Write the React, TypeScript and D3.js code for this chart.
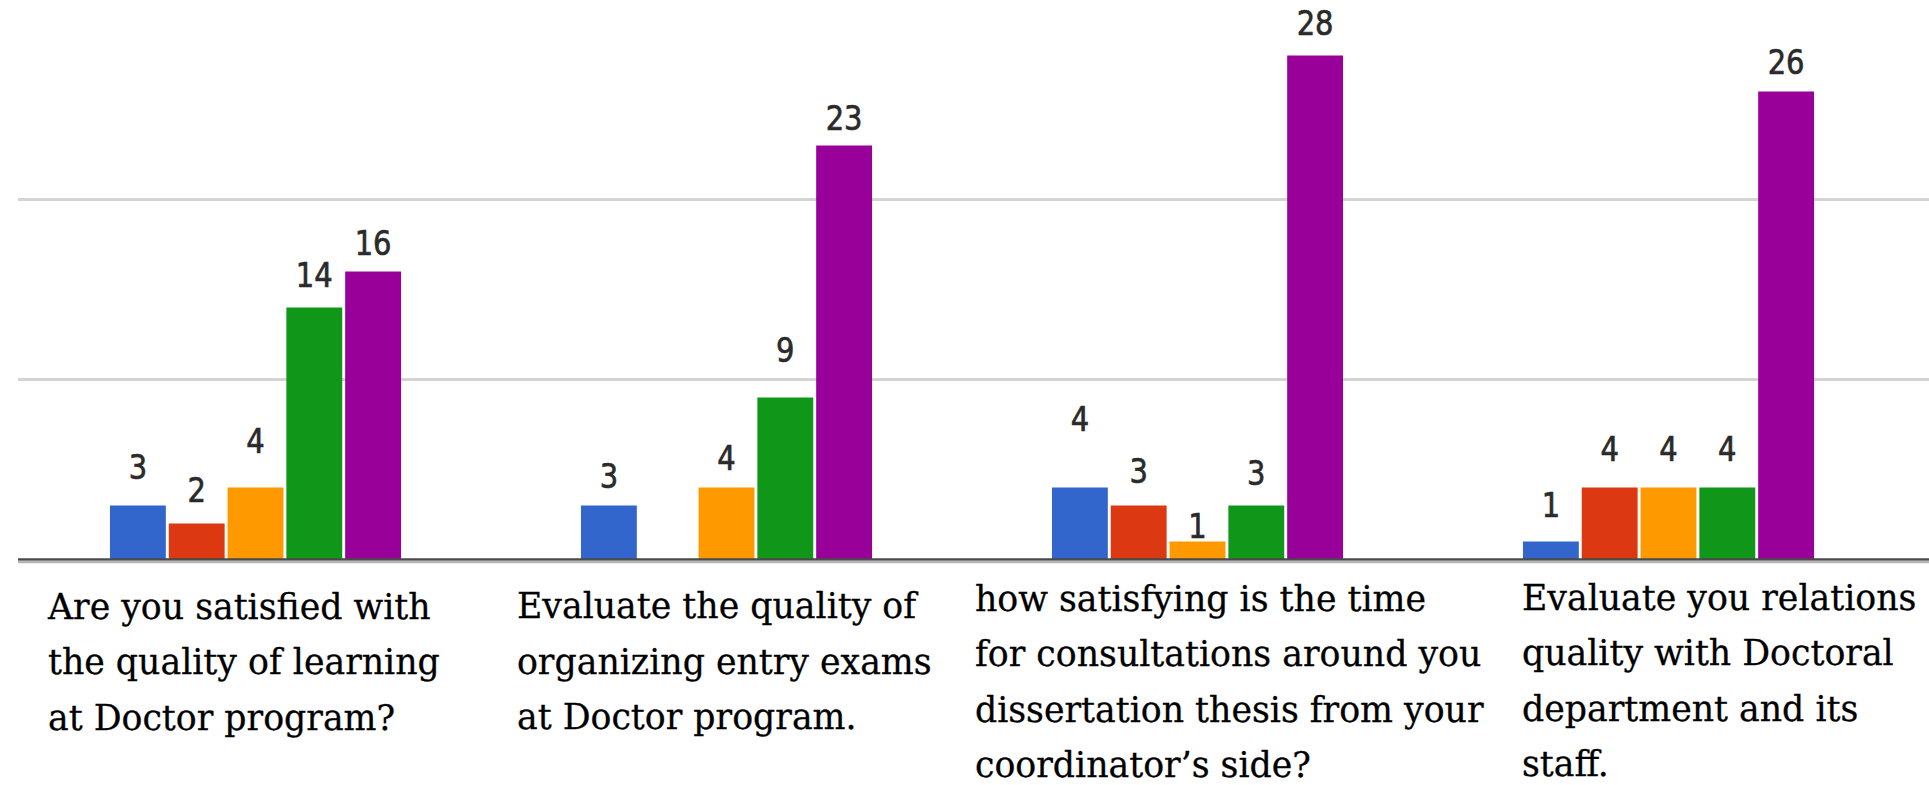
import React from "react";
import * as d3 from "d3";

// ---- data ----
const categories: string[][] = [
  ["Are you satisfied with", "the quality of learning", "at Doctor program?"],
  ["Evaluate the quality of", "organizing entry exams", "at Doctor program."],
  ["how satisfying is the time", "for consultations around you", "dissertation thesis from your", "coordinator\u2019s side?"],
  ["Evaluate you relations", "quality with Doctoral", "department and its", "staff."],
];
const seriesNames: string[] = ["1", "2", "3", "4", "5"];
const s1: (number | null)[] = [3, 3, 4, 1];
const s2: (number | null)[] = [2, null, 3, 4];
const s3: (number | null)[] = [4, 4, 1, 4];
const s4: (number | null)[] = [14, 9, 3, 4];
const s5: (number | null)[] = [16, 23, 28, 26];
const seriesValues = [s1, s2, s3, s4, s5];
const gridTicks: number[] = [10, 20];

// ---- style ----
const W = 1929;
const H = 785;
const colors = ["#3366cc", "#dc3912", "#ff9900", "#109618", "#990099"];
// extra lift of value labels above the default position (px), per category / series
const labelLift: number[][] = [
  [6, 1, 14, 0, -4],
  [-3, 0, -3, 15, -5],
  [36, 2, -17, 0, 0],
  [4, 6, 6, 6, -3],
];
const catLabelDx = [-62, -64, -77, -1];
const catLabelFirstBaseline = [619, 618.5, 611, 610];

export default function App() {
  const baseY = 559.5;
  const y = d3.scaleLinear().domain([0, 30]).range([baseY, baseY - 30 * 18]);
  const catIdx = categories.map((_, i) => String(i));
  const x0 = d3
    .scaleBand<string>()
    .domain(catIdx)
    .range([20, 20 + 4 * 471])
    .paddingInner(0.382)
    .paddingOuter(0.191);
  const x1 = d3
    .scaleBand<string>()
    .domain(seriesNames)
    .range([0, x0.bandwidth()])
    .paddingInner(0.05);

  return (
    <svg
      width={W}
      height={H}
      style={{ position: "absolute", left: 0, top: 0, background: "#fff" }}
    >
      <rect x={0} y={0} width={W} height={H} fill="#fff" />
      {gridTicks.map((t) => (
        <line key={t} x1={18} x2={W} y1={y(t)} y2={y(t)} stroke="#d4d4d4" strokeWidth={3} />
      ))}
      {catIdx.map((c, ci) => (
        <g key={c} transform={`translate(${x0(c)},0)`}>
          {seriesNames.map((s, si) => {
            const v = seriesValues[si][ci];
            if (v == null || v === 0) return null;
            const bx = x1(s)!;
            const top = y(v);
            return (
              <rect
                key={s}
                x={bx}
                y={top}
                width={x1.bandwidth()}
                height={baseY - top}
                fill={colors[si]}
              />
            );
          })}
        </g>
      ))}
      <line x1={18} x2={W} y1={559.5} y2={559.5} stroke="#4a4a4a" strokeWidth={2.5} />
      <line x1={18} x2={W} y1={562} y2={562} stroke="#b4b4b4" strokeWidth={2.5} />
      {catIdx.map((c, ci) => (
        <g key={"l" + c}>
          {seriesNames.map((s, si) => {
            const v = seriesValues[si][ci];
            if (v == null || v === 0) return null;
            const cx = x0(c)! + x1(s)! + x1.bandwidth() / 2;
            const by = y(v) - 33 - labelLift[ci][si] + 12.5;
            return (
              <text
                key={s}
                transform={`translate(${cx},${by}) scale(1,1.18)`}
                textAnchor="middle"
                fontFamily="'DejaVu Sans', sans-serif"
                fontSize={29}
                fill="#2a2a2a"
                stroke="#2a2a2a"
                strokeWidth={0.6}
              >
                {v}
              </text>
            );
          })}
        </g>
      ))}
      {categories.map((lines, ci) => (
        <text
          key={"c" + ci}
          transform={`translate(${x0(String(ci))! + catLabelDx[ci]},0) scale(0.965,1)`}
          fontFamily="'DejaVu Serif', serif"
          fontSize={36}
          fill="#000"
          stroke="#000"
          strokeWidth={0.3}
        >
          {lines.map((ln, li) => (
            <tspan key={li} x={0} y={catLabelFirstBaseline[ci] + li * 55.5}>
              {ln}
            </tspan>
          ))}
        </text>
      ))}
    </svg>
  );
}
